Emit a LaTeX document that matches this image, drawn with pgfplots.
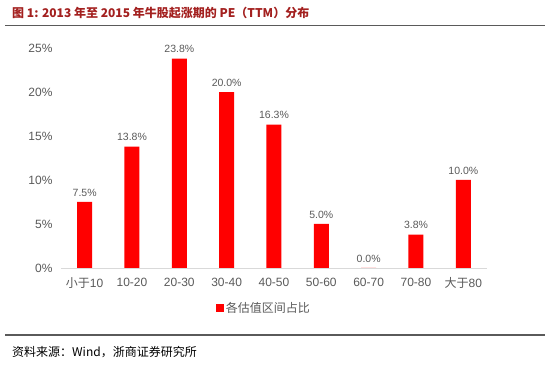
\documentclass[border=0pt]{standalone}
\usepackage{fontspec}
\setmainfont{Liberation Sans}
\newfontfamily\cjk{Noto Sans CJK SC}
\usepackage{pgfplots}
\pgfplotsset{compat=1.18}
\definecolor{titlered}{HTML}{A3201F}
\definecolor{txtgray}{HTML}{595959}
\definecolor{rulegray}{HTML}{5A5A5A}
\definecolor{axgray}{HTML}{D9D9D9}
\begin{document}
\begin{tikzpicture}[x=1pt,y=1pt]
\path (0,0) rectangle (550,-366);
\node[anchor=west,inner sep=0pt,text=titlered,font=\cjk\bfseries\fontsize{12}{14}\selectfont] at (12,-13) {图\ 1: 2013 年至 2015 年牛股起涨期的 PE（TTM）分布};
\draw[rulegray,line width=1.6pt] (5,-25.5) -- (545,-25.5);
\draw[rulegray,line width=1.2pt] (5,-335) -- (545,-335);
\node[anchor=west,inner sep=0pt,font=\cjk\fontsize{12}{14}\selectfont] at (12,-352) {资料来源：Wind，浙商证券研究所};
\begin{axis}[
  at={(61pt,-268pt)}, anchor=origin,
  scale only axis, width=426pt, height=220pt,
  xmin=0, xmax=9, ymin=0, ymax=25,
  xtick={0.5,1.5,...,8.5},
  xticklabels={{\cjk 小于}10,10-20,20-30,30-40,40-50,50-60,60-70,70-80,{\cjk 大于}80},
  ytick={0,5,10,15,20,25},
  yticklabel={\pgfmathprintnumber{\tick}\%},
  axis x line*=bottom, axis y line*=left,
  x axis line style={axgray,line width=0.8pt,-},
  y axis line style={draw=none},
  tick style={draw=none},
  ticklabel style={font=\fontsize{12}{14}\selectfont,text=txtgray},
  yticklabel style={xshift=-5pt},
  xticklabel style={yshift=-2pt},
  /pgf/number format/assume math mode=true,
  ybar, bar width=15pt,
  nodes near coords={\pgfmathprintnumber[fixed,fixed zerofill,precision=1,assume math mode=true]{\pgfplotspointmeta}\%},
  every node near coord/.append style={font=\fontsize{10.5}{12}\selectfont,text=txtgray,yshift=2pt},
  legend style={at={(0.476,-0.145)},anchor=north,draw=none,fill=none,font=\cjk\fontsize{12}{14}\selectfont,text=txtgray,inner sep=0pt},
  legend image code/.code={\fill[red] (0pt,-4pt) rectangle (8pt,4pt);},
  clip=false,
]
\addplot[fill=red,draw=none] coordinates {(0.5,7.5) (1.5,13.8) (2.5,23.8) (3.5,20.0) (4.5,16.3) (5.5,5.0) (6.5,0.0) (7.5,3.8) (8.5,10.0)};
\addlegendentry{各估值区间占比}
\end{axis}
\end{tikzpicture}
\end{document}
